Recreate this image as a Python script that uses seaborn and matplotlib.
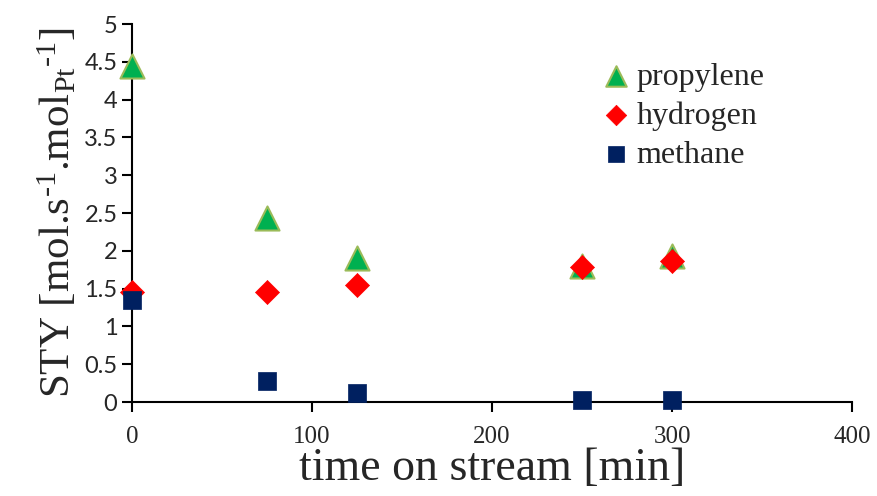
import pandas as pd
import matplotlib
matplotlib.use("Agg")
import matplotlib.pyplot as plt
import seaborn as sns

# data
time_min = [0, 75, 125, 250, 300]
propylene = [4.45, 2.44, 1.90, 1.80, 1.93]
hydrogen = [1.45, 1.45, 1.55, 1.78, 1.87]
methane = [1.35, 0.28, 0.12, 0.03, 0.03]

x_ticks = [0, 100, 200, 300, 400]
y_ticks = [0, 0.5, 1, 1.5, 2, 2.5, 3, 3.5, 4, 4.5, 5]

sns.set_style("ticks")
plt.rcParams["font.family"] = ["Liberation Serif", "DejaVu Serif"]
plt.rcParams["mathtext.fontset"] = "custom"
plt.rcParams["mathtext.rm"] = "Liberation Serif"
plt.rcParams["mathtext.it"] = "Liberation Serif:italic"

df = pd.concat([
    pd.DataFrame({"time": time_min, "STY": propylene, "gas": "propylene"}),
    pd.DataFrame({"time": time_min, "STY": hydrogen, "gas": "hydrogen"}),
    pd.DataFrame({"time": time_min, "STY": methane, "gas": "methane"}),
], ignore_index=True)

styles = {
    "propylene": dict(marker="^", color="#00B050", edgecolor="#9BBB59", s=300, linewidth=1.5),
    "hydrogen": dict(marker="D", color="#FF0000", edgecolor="#FF0000", s=150, linewidth=0.5),
    "methane": dict(marker="s", color="#002060", edgecolor="#002060", s=170, linewidth=0.5),
}

fig, ax = plt.subplots(figsize=(8.77, 4.96), dpi=100)
fig.subplots_adjust(left=0.1505, right=0.9715, bottom=0.1895, top=0.9516)

# drawn in this order so methane sits on top, as in the original
for gas in ["propylene", "hydrogen", "methane"]:
    sub = df[df["gas"] == gas]
    sns.scatterplot(data=sub, x="time", y="STY", ax=ax, label=gas, clip_on=False,
                    zorder=3, **styles[gas])

ax.set_xlim(0, 400)
ax.set_ylim(0, 5)
ax.set_xticks(x_ticks)
ax.set_yticks(y_ticks)
ax.set_xticklabels([str(t) for t in x_ticks], fontsize=18, family="Liberation Serif")
ax.set_yticklabels([f"{t:g}" for t in y_ticks], fontsize=17, family=["Lato", "DejaVu Sans"])
ax.tick_params(axis="both", direction="out", length=7, width=1.5, color="black")
ax.tick_params(axis="x", pad=10)
for side in ["left", "bottom"]:
    ax.spines[side].set_linewidth(1.5)
    ax.spines[side].set_color("black")
sns.despine(ax=ax)

ax.set_xlabel("time on stream [min]", fontsize=33, labelpad=0)
ax.set_ylabel("STY [mol.s$^{\u20101}$.mol$_{\\mathrm{Pt}}$$^{\u20101}$]", fontsize=31, labelpad=4)

handles, labels = ax.get_legend_handles_labels()
ax.legend(handles, labels,
          loc="upper left", bbox_to_anchor=(0.61, 0.975), frameon=False,
          fontsize=23, handlelength=1.0, handletextpad=0.15, labelspacing=0.3,
          markerscale=0.85)

fig.savefig("out.png", dpi=100)
